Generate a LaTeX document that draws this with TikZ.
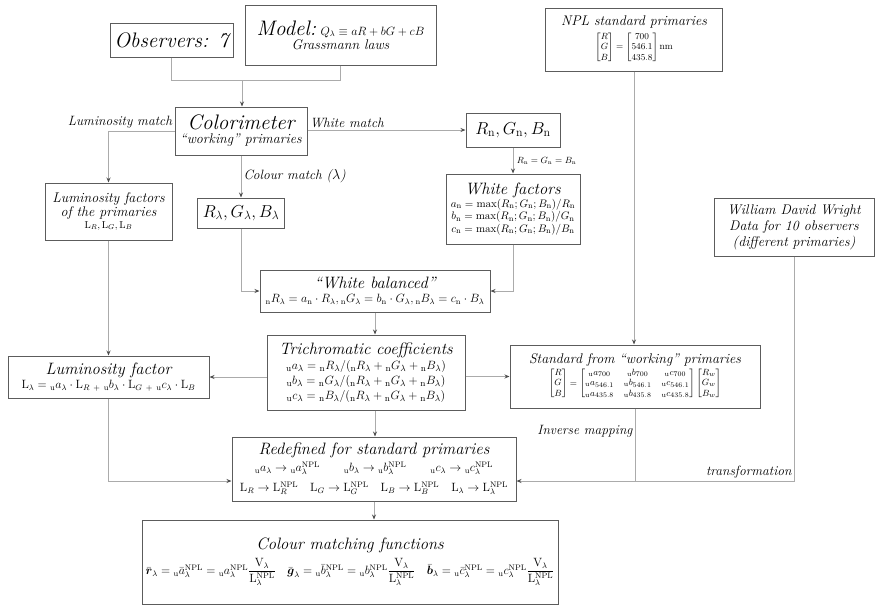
\documentclass[tikz,border=0pt]{standalone}
\usepackage{amsmath}
\usepackage{amssymb}
\usepackage{tikz}
\usetikzlibrary{arrows.meta}

\definecolor{boxline}{HTML}{5C5C5C}
\definecolor{linkline}{HTML}{ABABAB}

% title sizes and the small pre-subscripts
\newcommand{\bigttl}{\itshape\fontsize{21}{24}\selectfont}
\newcommand{\midttl}{\itshape\fontsize{16.5}{19}\selectfont}
\newcommand{\smallttl}{\itshape\fontsize{14}{16}\selectfont}
\newcommand{\usb}{{}_{\mathrm{u}}}
\newcommand{\nsb}{{}_{\mathrm{n}}}

\begin{document}
\begin{tikzpicture}[x=1pt, y=-1pt,
  box/.style = {draw=boxline, line width=1pt, fill=white, align=center, inner sep=2pt,
                font=\fontsize{10}{12}\selectfont},
  link/.style = {draw=linkline, line width=1pt},
  arrow/.style = {link, -{Stealth[length=5pt, width=4pt, color=black!70]}},
  lbl/.style = {font=\itshape\fontsize{13.5}{15}\selectfont, inner sep=2pt}]
\useasboundingbox (0,0) rectangle (875,606);

\node[box, minimum width=123, minimum height=34] (obs) at (171.5,40) {\bigttl Observers: 7};
\node[box, minimum width=191, minimum height=60] (model) at (340.5,35)
  {{\bigttl Model:} {\fontsize{11.5}{13}\selectfont $Q_\lambda \equiv aR + bG + cB$}\\[1pt]
   {\smallttl Grassmann laws}};
\node[box, minimum width=177, minimum height=63, font=\fontsize{9.5}{10.5}\selectfont] (npl) at (634,39.5)
  {{\smallttl NPL standard primaries}\\[3pt]
   $\begin{bmatrix}R\\G\\B\end{bmatrix} = \begin{bmatrix}700\\546.1\\435.8\end{bmatrix}$\,nm};

\node[box, minimum width=132, minimum height=48] (colo) at (241,131)
  {{\bigttl Colorimeter}\\[2pt] {\smallttl ``working'' primaries}};
\node[box, minimum width=94, minimum height=34, font=\fontsize{17}{20}\selectfont] (rn) at (513,130)
  {$R_{\mathrm{n}}, G_{\mathrm{n}}, B_{\mathrm{n}}$};

\node[box, minimum width=127, minimum height=57] (lumprim) at (108.5,211.5)
  {{\smallttl Luminosity factors}\\ {\smallttl of the primaries}\\ $\mathrm{L}_R, \mathrm{L}_G, \mathrm{L}_B$};
\node[box, minimum width=87, minimum height=30, font=\fontsize{17}{20}\selectfont] (rl) at (241,213)
  {$R_\lambda, G_\lambda, B_\lambda$};
\node[box, minimum width=134, minimum height=70, font=\fontsize{11.3}{12.5}\selectfont] (whitef) at (513,209)
  {{\midttl White factors}\\
   $a_{\mathrm{n}} = \max(R_{\mathrm{n}}; G_{\mathrm{n}}; B_{\mathrm{n}})/R_{\mathrm{n}}$\\
   $b_{\mathrm{n}} = \max(R_{\mathrm{n}}; G_{\mathrm{n}}; B_{\mathrm{n}})/G_{\mathrm{n}}$\\
   $c_{\mathrm{n}} = \max(R_{\mathrm{n}}; G_{\mathrm{n}}; B_{\mathrm{n}})/B_{\mathrm{n}}$};
\node[box, minimum width=160, minimum height=58, font=\smallttl] (wdw) at (794,227)
  {William David Wright\\ Data for 10 observers\\ (different primaries)};

\node[box, minimum width=230, minimum height=42, font=\fontsize{12}{14}\selectfont] (wb) at (375,291)
  {{\midttl ``White balanced''}\\
   $\nsb R_\lambda = a_{\mathrm{n}}\cdot R_\lambda, \nsb G_\lambda = b_{\mathrm{n}}\cdot G_\lambda, \nsb B_\lambda = c_{\mathrm{n}}\cdot B_\lambda$};

\node[box, minimum width=198, minimum height=75, font=\fontsize{13}{15}\selectfont] (trich) at (366,372.5)
  {{\midttl Trichromatic coefficients}\\
   $\usb a_\lambda = \nsb R_\lambda/(\nsb R_\lambda + \nsb G_\lambda + \nsb B_\lambda)$\\
   $\usb b_\lambda = \nsb G_\lambda/(\nsb R_\lambda + \nsb G_\lambda + \nsb B_\lambda)$\\
   $\usb c_\lambda = \nsb B_\lambda/(\nsb R_\lambda + \nsb G_\lambda + \nsb B_\lambda)$};
\node[box, minimum width=201, minimum height=42, font=\fontsize{12}{14}\selectfont] (lumf) at (108.5,377)
  {{\midttl Luminosity factor}\\
   $\mathrm{L}_\lambda = \usb a_\lambda\cdot \mathrm{L}_R \;{}_+\; \usb b_\lambda\cdot \mathrm{L}_G \;{}_+\; \usb c_\lambda\cdot \mathrm{L}_B$};
\node[box, minimum width=250, minimum height=63, font=\fontsize{9.5}{10.5}\selectfont] (std) at (635,376.5)
  {{\smallttl Standard from ``working'' primaries}\\[1pt]
   $\begin{bmatrix}R\\G\\B\end{bmatrix} =
    \begin{bmatrix}\usb a_{700} & \usb b_{700} & \usb c_{700}\\
                   \usb a_{546.1} & \usb b_{546.1} & \usb c_{546.1}\\
                   \usb a_{435.8} & \usb b_{435.8} & \usb c_{435.8}\end{bmatrix}
    \begin{bmatrix}R_w\\G_w\\B_w\end{bmatrix}$};

\node[box, minimum width=284, minimum height=64, font=\fontsize{12}{16}\selectfont] (redef) at (374,469)
  {{\midttl Redefined for standard primaries}\\[1pt]
   $\usb a_\lambda \rightarrow \usb a_\lambda^{\mathrm{NPL}} \qquad
    \usb b_\lambda \rightarrow \usb b_\lambda^{\mathrm{NPL}} \qquad
    \usb c_\lambda \rightarrow \usb c_\lambda^{\mathrm{NPL}}$\\[4pt]
   $\mathrm{L}_R \rightarrow \mathrm{L}_R^{\mathrm{NPL}} \quad
    \mathrm{L}_G \rightarrow \mathrm{L}_G^{\mathrm{NPL}} \quad
    \mathrm{L}_B \rightarrow \mathrm{L}_B^{\mathrm{NPL}} \quad
    \mathrm{L}_\lambda \rightarrow \mathrm{L}_\lambda^{\mathrm{NPL}}$};
\node[box, minimum width=416, minimum height=84, font=\fontsize{11.5}{13}\selectfont] (cmf) at (350,562)
  {{\midttl Colour matching functions}\\[4pt]
   $\bar{\boldsymbol{r}}_\lambda = \usb\bar{a}_\lambda^{\mathrm{NPL}} = \usb a_\lambda^{\mathrm{NPL}}\dfrac{\mathrm{V}_\lambda}{\mathrm{L}_\lambda^{\mathrm{NPL}}}\quad
    \bar{\boldsymbol{g}}_\lambda = \usb\bar{b}_\lambda^{\mathrm{NPL}} = \usb b_\lambda^{\mathrm{NPL}}\dfrac{\mathrm{V}_\lambda}{\mathrm{L}_\lambda^{\mathrm{NPL}}}\quad
    \bar{\boldsymbol{b}}_\lambda = \usb\bar{c}_\lambda^{\mathrm{NPL}} = \usb c_\lambda^{\mathrm{NPL}}\dfrac{\mathrm{V}_\lambda}{\mathrm{L}_\lambda^{\mathrm{NPL}}}$};

% where the lines meet
\coordinate (join) at (242,80);
\coordinate (redefin) at ([yshift=-12pt]redef.east);
\coordinate (redefleft) at ([yshift=-12pt]redef.west);

\draw[link] (obs.south) |- (join);
\draw[link] (model.south) |- (join);
\draw[arrow] (join) -- (join |- colo.north);

\draw[arrow] (colo.west) node[lbl, above left] {Luminosity match} -| (lumprim.north);
\draw[arrow] (colo.east |- rn.west) node[lbl, above right] {White match} -- (rn.west);
\draw[arrow] (colo.south) -- node[lbl, right] {Colour match ($\lambda$)} (rl.north);
\draw[arrow] (rn.south) -- node[right, font=\fontsize{9}{10}\selectfont]
  {$R_{\mathrm{n}} = G_{\mathrm{n}} = B_{\mathrm{n}}$} (whitef.north);

\draw[arrow] (rl.south) |- (wb.west);
\draw[arrow] (whitef.south) |- (wb.east);
\draw[arrow] (wb.south) -- (wb.south |- trich.north);
\draw[arrow] (lumprim.south) -- (lumf.north);
\draw[arrow] (npl.south) -- (npl.south |- std.north);

\draw[arrow] (trich.west |- lumf.east) -- (lumf.east);
\draw[arrow] (trich.east |- std.west) -- (std.west);
\draw[arrow] (trich.south -| wb.south) -- (redef.north -| wb.south);

\draw[arrow] (lumf.south) |- (redefleft);
\draw[arrow] (wdw.south) |- node[lbl, above left] {transformation} (redefin);
\draw[link] (std.south) -- node[lbl, left, pos=0.32] {Inverse mapping} (std.south |- redefin);
\draw[arrow] (redef.south) -- (redef.south |- cmf.north);
\end{tikzpicture}
\end{document}
